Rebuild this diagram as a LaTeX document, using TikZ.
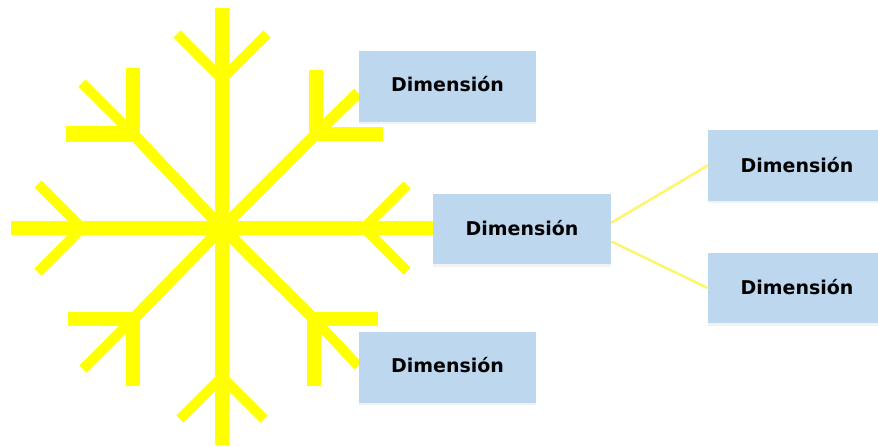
\documentclass[tikz,border=0pt]{standalone}
\usepackage{fontspec}
\setsansfont{DejaVu Sans}
\usepackage{xcolor}
\usetikzlibrary{positioning, calc, shadows, backgrounds}
\definecolor{flakeyellow}{HTML}{FFFF00}
\definecolor{linkyellow}{HTML}{FFF56A}
\definecolor{boxblue}{HTML}{BDD7EE}
\newcommand{\flaketwig}[4]{%
    % Two thin twigs leaving one junction point
    \coordinate (#1) at (#2);
    \draw[twig_style] (#1) -- (#3);
    \draw[twig_style] (#1) -- (#4);
}

\begin{document}
\begin{tikzpicture}[
        x=0.02cm, y=-0.02cm,
        spoke_style/.style={draw=flakeyellow, line width=0.28cm},
        diag_style/.style={draw=flakeyellow, line width=0.23cm},
        twig_style/.style={draw=flakeyellow, line width=0.2cm},
        arm_style/.style={draw=flakeyellow, line width=0.32cm},
        link_style/.style={draw=linkyellow, line width=0.05cm},
        dim_box/.style={fill=boxblue, minimum width=3.56cm, minimum height=1.42cm, inner sep=0pt,
            text depth=0.04cm,
            font=\sffamily\bfseries\fontsize{10.8}{12}\selectfont,
            drop shadow={shadow xshift=0pt, shadow yshift=-0.05cm, opacity=0.12, fill=boxblue!70!black}}
    ]
    \path[use as bounding box, clip] (0, 0) rectangle (878, 446);

    % =========================================================================
    % 1. DIMENSION BOXES
    % =========================================================================
    \node[dim_box, text depth=0.1cm] (dim_top) at (447.5, 86.5) {Dimensión};
    \node[dim_box] (dim_mid) at (522, 229) {Dimensión};
    \node[dim_box, text depth=0.1cm] (dim_bot) at (447.5, 367.5) {Dimensión};
    \node[dim_box] (dim_upper) at (797, 165.5) {Dimensión};
    \node[dim_box] (dim_lower) at (797, 288) {Dimensión};

    % =========================================================================
    % 2. LINKS TO THE OUTER BOXES
    % =========================================================================
    \draw[link_style] (dim_mid.4) -- (dim_upper.west);
    \draw[link_style] (dim_mid.-8) -- (dim_lower.west);

    \begin{pgfonlayer}{background}
        % =====================================================================
        % 3. MAIN SPOKES
        % =====================================================================
        \coordinate (hub) at (222, 228);
        \coordinate (tip_n) at (222, 8);
        \coordinate (tip_s) at (222, 445);
        \coordinate (tip_w) at (11, 228);
        \draw[spoke_style] (tip_n) -- (tip_s);
        \draw[spoke_style] (tip_w) -- (dim_mid.west |- hub);

        % Diagonals run from the hub to the four corner junctions
        \draw[diag_style] (hub) -- (133, 134);
        \draw[diag_style] (hub) -- (316, 134);
        \draw[diag_style] (hub) -- (133, 319);
        \draw[diag_style] (hub) -- (314, 319);

        % =====================================================================
        % 4. TWIGS ON THE MAIN SPOKES
        % =====================================================================
        \flaketwig{fork_n}{222, 79}{177, 34}{267, 34}
        \flaketwig{fork_s}{222, 377}{180, 419}{264, 419}
        \flaketwig{fork_w}{82, 228}{38, 184}{38, 272}
        \flaketwig{fork_e}{364, 228}{407, 185}{407, 271}

        % =====================================================================
        % 5. CORNER JUNCTIONS
        % =====================================================================
        \draw[arm_style] (66, 134) -- (140, 134);
        \draw[spoke_style] (132.5, 68) -- (132.5, 142);
        \draw[twig_style] (82, 83) -- (133, 134);

        \draw[spoke_style] (309, 134) -- (383, 134);
        \draw[spoke_style] (316, 70) -- (316, 141);
        \draw[diag_style] (316, 134) -- (dim_top.184);

        \draw[spoke_style] (68, 319) -- (140, 319);
        \draw[spoke_style] (132.5, 312) -- (132.5, 386);
        \draw[twig_style] (133, 319) -- (83, 369);

        \draw[spoke_style] (307, 319) -- (378, 319);
        \draw[spoke_style] (314, 312) -- (314, 386);
        \draw[twig_style] (314, 319) -- (dim_bot.179);
    \end{pgfonlayer}

\end{tikzpicture}
\end{document}
